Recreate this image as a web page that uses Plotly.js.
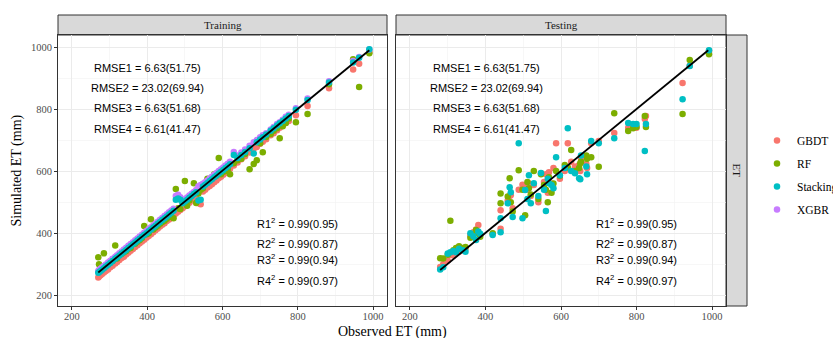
<!DOCTYPE html>
<html>
<head>
<meta charset="utf-8">
<script src="https://cdn.plot.ly/plotly-3.0.1.min.js"></script>
<style>html,body{margin:0;padding:0;background:#fff;}#chart{width:833px;height:338px;}</style>
</head>
<body>
<div id="chart"></div>
<script>
// ---------------- data ----------------
const models = ["GBDT", "RF", "Stacking", "XGBR"];
const colors = {GBDT: "#F8766D", RF: "#7CAE00", Stacking: "#00BFC4", XGBR: "#C77CFF"};
const panels = ["Training", "Testing"];
const stripRight = "ET";
const xTitle = "Observed ET (mm)";
const yTitle = "Simulated ET (mm)";
const tickVals = [200, 400, 600, 800, 1000];

const obsTrain = [
 270, 272, 276, 280, 285, 290, 296, 302, 308, 315,
 320, 326, 332, 338, 344, 350, 356, 362, 368, 374,
 380, 386, 392, 398, 404, 410, 416, 422, 428, 434,
 440, 446, 452, 458, 464, 470, 476, 482, 488, 494,
 500, 506, 512, 518, 524, 530, 536, 542, 548, 554,
 560, 566, 572, 578, 584, 590, 596, 602, 608, 614,
 620, 630, 640, 650, 660, 672, 683, 691, 700, 707,
 716, 728, 736, 745, 752, 760, 768, 776, 795, 826,
 883, 947, 963, 990];
const gbdtTrain = [
 257, 260, 264, 268, 273, 278, 283, 290, 295, 302,
 307, 313, 320, 324, 331, 337, 343, 349, 355, 361,
 367, 373, 379, 385, 391, 396, 403, 409, 415, 421,
 427, 432, 439, 444, 451, 456, 463, 469, 475, 480,
 487, 492, 498, 505, 510, 516, 496, 493, 534, 540,
 547, 552, 558, 564, 570, 577, 582, 588, 594, 600,
 608, 618, 628, 638, 648, 660, 672, 678, 688, 695,
 703, 716, 722, 732, 740, 748, 755, 762, 780, 810,
 867, 928, 946, 984];
const rfTrain = [
 322, 300, 292, 288, 335, 295, 300, 306, 310, 360,
 318, 330, 333, 338, 342, 350, 352, 365, 366, 372,
 378, 384, 423, 396, 400, 445, 412, 418, 424, 430,
 436, 440, 446, 454, 452, 448, 542, 480, 478, 500,
 568, 488, 505, 523, 561, 497, 528, 540, 545, 560,
 575, 572, 580, 590, 586, 642, 590, 598, 600, 606,
 590, 625, 635, 640, 655, 606, 623, 635, 690, 661,
 710, 720, 730, 738, 706, 745, 755, 770, 758, 784,
 880, 961, 871, 980];
const stackTrain = [
 272, 274, 278, 282, 287, 292, 298, 304, 310, 317,
 322, 328, 334, 340, 346, 352, 358, 364, 370, 376,
 382, 388, 394, 400, 406, 412, 418, 424, 430, 436,
 442, 448, 454, 460, 466, 472, 508, 512, 508, 496,
 502, 508, 514, 520, 526, 532, 505, 508, 550, 556,
 562, 568, 574, 580, 586, 592, 598, 604, 610, 616,
 622, 652, 642, 652, 662, 674, 657, 693, 702, 709,
 718, 730, 738, 747, 754, 762, 770, 778, 798, 829,
 886, 950, 966, 993];
const xgbrTrain = [
 278, 281, 285, 289, 294, 299, 305, 311, 317, 324,
 329, 335, 341, 347, 353, 359, 365, 371, 377, 383,
 389, 395, 401, 407, 413, 419, 425, 431, 437, 443,
 449, 455, 461, 467, 473, 479, 520, 524, 516, 503,
 509, 515, 521, 527, 533, 539, 551, 555, 559, 564,
 570, 576, 582, 588, 594, 600, 606, 612, 618, 624,
 630, 662, 650, 660, 670, 682, 693, 700, 709, 716,
 722, 734, 742, 752, 758, 766, 775, 782, 803, 834,
 890, 955, 968, 992];

const obsTest = [
 280, 288, 300, 307, 315, 322, 330, 340, 347, 360,
 368, 375, 381, 386, 419, 440, 440, 459, 464, 467,
 472, 488, 498, 505, 511, 515, 520, 528, 540, 547,
 555, 560, 565, 568, 575, 580, 587, 597, 610, 618,
 627, 637, 648, 651, 653, 667, 669, 680, 700, 741,
 778, 791, 800, 822, 825, 922, 941, 992];
const gbdtTest = [
 291, 300, 312, 330, 328, 335, 340, 346, 350, 392,
 403, 412, 426, 395, 398, 474, 414, 505, 520, 522,
 480, 540, 556, 548, 540, 560, 520, 555, 500, 593,
 565, 590, 530, 596, 560, 610, 690, 575, 600, 690,
 630, 615, 620, 600, 640, 623, 610, 690, 697, 723,
 740, 745, 740, 768, 778, 884, 940, 988];
const rfTest = [
 319, 318, 330, 440, 345, 352, 358, 352, 355, 385,
 395, 410, 400, 388, 400, 528, 496, 518, 577, 500,
 470, 603, 540, 458, 565, 545, 525, 600, 510, 590,
 555, 540, 500, 580, 530, 560, 600, 585, 620, 612,
 668, 600, 610, 625, 630, 650, 640, 645, 614, 787,
 729, 738, 742, 778, 742, 784, 958, 977];
const stackTest = [
 283, 290, 334, 338, 342, 338, 350, 345, 340, 400,
 390, 378, 405, 398, 394, 448, 403, 496, 548, 532,
 452, 690, 448, 539, 510, 587, 496, 561, 520, 594,
 540, 471, 575, 561, 555, 545, 645, 587, 610, 738,
 600, 593, 577, 574, 650, 615, 590, 697, 690, 706,
 755, 752, 752, 665, 752, 832, 939, 990];

// fitted lines (end points)
const fitTrainX = [270, 990], fitTrainY = [273, 990];
const fitTestX = [280, 990], fitTestY = [281, 990];

const rmseLabels = ["RMSE1 = 6.63(51.75)", "RMSE2 = 23.02(69.94)", "RMSE3 = 6.63(51.68)", "RMSE4 = 6.61(41.47)"];
const rmseY = [932, 868, 803, 735];
const r2Labels = ["R1<sup>2</sup> = 0.99(0.95)", "R2<sup>2</sup> = 0.99(0.87)", "R3<sup>2</sup> = 0.99(0.94)", "R4<sup>2</sup> = 0.99(0.97)"];
const r2Y = [432, 368, 316, 248];
const rmseX = 402, r2X = 800;

// ---------------- build ----------------
const W = 833, H = 338;
const px = (v) => v / W, py = (v) => 1 - v / H;
const panelTop = 35, panelBot = 306;
const xd1 = [px(58), px(387)], xd2 = [px(396), px(726)];
const yd = [py(panelBot), py(panelTop)];

const traces = [];
const trainSets = {GBDT: gbdtTrain, RF: rfTrain, XGBR: xgbrTrain, Stacking: stackTrain};
const testSets = {GBDT: gbdtTest, RF: rfTest, Stacking: stackTest};
const drawOrder = ["GBDT", "RF", "XGBR", "Stacking"];
drawOrder.forEach(m => {
  traces.push({type: "scatter", mode: "markers", x: obsTrain, y: trainSets[m], xaxis: "x", yaxis: "y",
    name: m, legendgroup: m, legendrank: models.indexOf(m) + 1, showlegend: true,
    marker: {color: colors[m], size: 6.5}, hoverinfo: "skip"});
});
drawOrder.forEach(m => {
  if (!testSets[m]) return;
  traces.push({type: "scatter", mode: "markers", x: obsTest, y: testSets[m], xaxis: "x2", yaxis: "y2",
    name: m, legendgroup: m, showlegend: false,
    marker: {color: colors[m], size: 6.5}, hoverinfo: "skip"});
});
traces.push({type: "scatter", mode: "lines", x: fitTrainX, y: fitTrainY, xaxis: "x", yaxis: "y",
  line: {color: "#000", width: 1.8}, showlegend: false, hoverinfo: "skip"});
traces.push({type: "scatter", mode: "lines", x: fitTestX, y: fitTestY, xaxis: "x2", yaxis: "y2",
  line: {color: "#000", width: 1.8}, showlegend: false, hoverinfo: "skip"});

const tickFont = {family: "Liberation Serif, Times New Roman, serif", size: 10.5, color: "#4D4D4D"};
const baseAxis = {
  range: [163, 1037], tickvals: tickVals, ticktext: tickVals.map(String),
  showgrid: true, gridcolor: "#EBEBEB", gridwidth: 1,
  minor: {tickvals: [300, 500, 700, 900], showgrid: true, gridcolor: "#F2F2F2", gridwidth: 0.6, ticks: ""},
  zeroline: false, showline: true, mirror: true, linecolor: "#333333", linewidth: 1,
  ticks: "outside", ticklen: 3, tickcolor: "#333333", tickwidth: 1,
  tickfont: tickFont, fixedrange: true, automargin: false
};
const yAxisBase = Object.assign({}, baseAxis, {range: [165, 1039]});

const annotations = [];
const annFont = {family: "Liberation Sans, Arial, sans-serif", size: 11, color: "#000"};
["x", "x2"].forEach((xa, i) => {
  const ya = i === 0 ? "y" : "y2";
  rmseLabels.forEach((t, k) => annotations.push({xref: xa, yref: ya, x: rmseX, y: rmseY[k], text: t,
    showarrow: false, font: annFont, xanchor: "center", yanchor: "middle"}));
  r2Labels.forEach((t, k) => annotations.push({xref: xa, yref: ya, x: r2X, y: r2Y[k], text: t,
    showarrow: false, font: annFont, xanchor: "center", yanchor: "middle"}));
});
const stripFont = {family: "Liberation Serif, Times New Roman, serif", size: 11, color: "#1A1A1A"};
annotations.push({xref: "paper", yref: "paper", x: (xd1[0] + xd1[1]) / 2, y: py(25), text: panels[0],
  showarrow: false, font: stripFont, xanchor: "center", yanchor: "middle"});
annotations.push({xref: "paper", yref: "paper", x: (xd2[0] + xd2[1]) / 2, y: py(25), text: panels[1],
  showarrow: false, font: stripFont, xanchor: "center", yanchor: "middle"});
annotations.push({xref: "paper", yref: "paper", x: px(737), y: (yd[0] + yd[1]) / 2, text: stripRight,
  textangle: 90, showarrow: false, font: stripFont, xanchor: "center", yanchor: "middle"});
const titleFont = {family: "Liberation Serif, Times New Roman, serif", size: 14, color: "#000"};
annotations.push({xref: "paper", yref: "paper", x: px(392), y: py(332), text: xTitle,
  showarrow: false, font: titleFont, xanchor: "center", yanchor: "middle"});
annotations.push({xref: "paper", yref: "paper", x: px(16), y: (yd[0] + yd[1]) / 2, text: yTitle,
  textangle: -90, showarrow: false, font: titleFont, xanchor: "center", yanchor: "middle"});

const shapes = [
  {type: "rect", xref: "paper", yref: "paper", x0: xd1[0], x1: xd1[1], y0: py(35), y1: py(15),
   fillcolor: "#D9D9D9", line: {color: "#333333", width: 1}, layer: "below"},
  {type: "rect", xref: "paper", yref: "paper", x0: xd2[0], x1: xd2[1], y0: py(35), y1: py(15),
   fillcolor: "#D9D9D9", line: {color: "#333333", width: 1}, layer: "below"},
  {type: "rect", xref: "paper", yref: "paper", x0: px(726), x1: px(747), y0: yd[0], y1: yd[1],
   fillcolor: "#D9D9D9", line: {color: "#333333", width: 1}, layer: "below"}
];

const layout = {
  width: W, height: H, margin: {l: 0, r: 0, t: 0, b: 0, pad: 0, autoexpand: false},
  paper_bgcolor: "#fff", plot_bgcolor: "#fff",
  xaxis: Object.assign({}, baseAxis, {domain: xd1, anchor: "y", ticklabelstandoff: -3}),
  yaxis: Object.assign({}, yAxisBase, {domain: yd, anchor: "x"}),
  xaxis2: Object.assign({}, baseAxis, {domain: xd2, anchor: "y2", ticklabelstandoff: -3}),
  yaxis2: Object.assign({}, yAxisBase, {domain: yd, anchor: "x2", showticklabels: false, ticks: ""}),
  showlegend: true,
  legend: {x: px(757), y: py(126), xanchor: "left", yanchor: "top",
    font: {family: "Liberation Serif, Times New Roman, serif", size: 11.5, color: "#000"},
    bgcolor: "rgba(0,0,0,0)", itemwidth: 30, tracegroupgap: 4},
  annotations: annotations, shapes: shapes
};

Plotly.newPlot("chart", traces, layout, {staticPlot: true, displayModeBar: false});
</script>
</body>
</html>
